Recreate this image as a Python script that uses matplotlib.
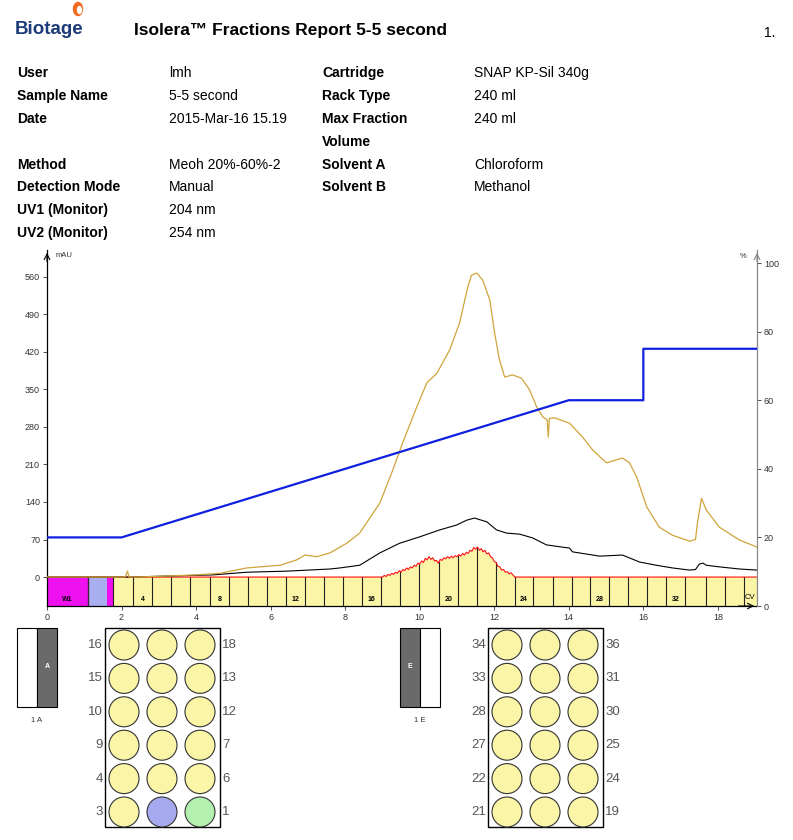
import matplotlib
matplotlib.use('Agg')
import matplotlib.pyplot as plt
from matplotlib.patches import Rectangle, Circle, Ellipse
import numpy as np

plt.rcParams['font.family'] = ['Liberation Sans', 'DejaVu Sans']

# ---- report header data
left_labels = ['User', 'Sample Name', 'Date', '', 'Method', 'Detection Mode', 'UV1 (Monitor)', 'UV2 (Monitor)']
left_values = ['lmh', '5-5 second', '2015-Mar-16 15.19', '', 'Meoh 20%-60%-2', 'Manual', '204 nm', '254 nm']
right_labels = ['Cartridge', 'Rack Type', 'Max Fraction', 'Volume', 'Solvent A', 'Solvent B', '', '']
right_values = ['SNAP KP-Sil 340g', '240 ml', '240 ml', '', 'Chloroform', 'Methanol', '', '']

# ---- traces (CV, mAU)
uv1_t = [0.0, 2.10, 2.16, 2.20, 2.6, 3.24, 4.0, 4.64, 5.36, 6.25, 6.70, 6.92, 7.24, 7.59, 8.04, 8.39,
         8.93, 9.28, 9.54, 9.92, 10.19, 10.46, 10.80, 11.07, 11.29, 11.39, 11.53, 11.69, 11.88, 12.01,
         12.14, 12.28, 12.49, 12.73, 12.95, 13.14, 13.30, 13.42, 13.45, 13.48, 13.62, 14.02, 14.37,
         14.64, 15.01, 15.44, 15.63, 15.82, 16.09, 16.43, 16.78, 17.24, 17.40, 17.45, 17.56, 17.69,
         18.04, 18.58, 19.05]
uv1_y = [0, 0, 11, 0, 0.5, 2, 4, 7, 17, 22, 32, 41, 38, 45, 63, 82,
         138, 200, 250, 317, 362, 380, 423, 474, 541, 563, 567, 554, 517, 455,
         405, 373, 377, 371, 349, 317, 299, 293, 261, 296, 297, 287, 261,
         237, 213, 222, 213, 187, 131, 93, 78, 67, 70, 100, 147, 125,
         93, 69, 56]

uv2_t = [0.0, 2.2, 3.30, 4.45, 5.36, 6.43, 7.59, 7.86, 8.39, 8.93, 9.46, 10.0, 10.54, 10.99, 11.26,
         11.47, 11.80, 12.06, 12.33, 12.68, 13.03, 13.40, 14.02, 14.10, 14.83, 15.44, 15.90, 16.35,
         16.78, 17.24, 17.40, 17.50, 17.60, 17.69, 18.04, 18.58, 19.05]
uv2_y = [0, 0, 2, 4, 9, 11, 15, 17, 22, 45, 63, 75, 88, 97, 106,
         110, 103, 88, 82, 80, 73, 60, 54, 47, 39, 41, 28, 22,
         17, 13, 14, 24, 26, 22, 19, 15, 13]

thr_t = [0.0, 9.00, 9.05, 9.10, 9.15, 9.20, 9.25, 9.30, 9.35, 9.40, 9.45, 9.50, 9.55, 9.60, 9.65,
         9.70, 9.75, 9.80, 9.85, 9.90, 9.95, 10.00, 10.05, 10.10, 10.15, 10.20, 10.25, 10.30, 10.35,
         10.40, 10.45, 10.50, 10.55, 10.60, 10.65, 10.70, 10.75, 10.80, 10.85, 10.90, 10.95, 11.00,
         11.05, 11.10, 11.15, 11.20, 11.25, 11.30, 11.35, 11.40, 11.45, 11.50, 11.55, 11.60, 11.65,
         11.70, 11.75, 11.80, 11.85, 11.90, 11.95, 12.00, 12.05, 12.10, 12.15, 12.20, 12.25, 12.30,
         12.35, 12.40, 12.45, 12.50, 12.55, 19.05]
thr_y = [0, 0, 3, 1, 5, 3, 7, 5, 9, 7, 12, 9, 14, 12, 17,
         14, 19, 17, 22, 20, 26, 24, 30, 27, 35, 32, 38, 33, 36,
         30, 31, 26, 33, 31, 36, 34, 38, 35, 39, 36, 40, 38,
         42, 39, 44, 41, 46, 44, 50, 48, 55, 52, 56, 50, 53,
         47, 50, 43, 45, 38, 36, 29, 27, 20, 19, 13, 14, 9,
         10, 6, 8, 4, 0, 0]

# gradient %B
grad_t = [0, 2, 14, 16, 16, 19.05]
grad_y = [20, 20, 60, 60, 75, 75]

# fraction bar
waste_segs = [(0.0, 1.12, '#ee10ee'), (1.12, 1.61, '#a8aef0'), (1.61, 1.78, '#ee10ee')]
frac_edges = [1.78, 2.30, 2.82, 3.34, 3.85, 4.37, 4.88, 5.39, 5.90, 6.41, 6.92, 7.43, 7.94, 8.45,
              8.95, 9.46, 9.97, 10.51, 11.02, 11.53, 12.04, 12.55, 13.03, 13.57, 14.08, 14.58,
              15.07, 15.60, 16.11, 16.62, 17.13, 17.67, 18.18, 18.69, 19.05]
first_frac = 3
frac_labels = [4, 8, 12, 16, 20, 24, 28, 32]

# racks (top row first)
rackA_left = [16, 15, 10, 9, 4, 3]
rackA_right = [18, 13, 12, 7, 6, 1]
rackE_left = [34, 33, 28, 27, 22, 21]
rackE_right = [36, 31, 30, 25, 24, 19]
tube_colors = {1: '#b4f0b0', 2: '#a8aaf0'}
yellow = '#fbf5a8'

fig = plt.figure(figsize=(7.93, 8.4), dpi=100)

# pixel overlay for the report parts
ov = fig.add_axes([0, 0, 1, 1])
ov.set_xlim(0, 793)
ov.set_ylim(840, 0)
ov.axis('off')

ov.text(15, 34, 'Biotage', fontsize=13.5, fontweight='bold', color='#1d3b78', va='baseline')
ov.add_patch(Ellipse((78, 9), 9, 13, color='#f26a1f'))
ov.add_patch(Ellipse((79.5, 10), 4, 7, color='white'))
ov.text(134, 31, 'Isolera\u2122 Fractions Report 5-5 second', fontsize=12.5, fontweight='bold', va='center')
ov.text(764, 33, '1.', fontsize=10, va='center')

row_y = [73, 96, 119, 142, 165, 187, 210, 233]
for i, y in enumerate(row_y):
    ov.text(17, y, left_labels[i], fontsize=10, fontweight='bold', va='center')
    ov.text(169, y, left_values[i], fontsize=10, va='center')
    ov.text(322, y, right_labels[i], fontsize=10, fontweight='bold', va='center')
    ov.text(474, y, right_values[i], fontsize=10, va='center')


def rack_icon(x0, letter, dark_left, label):
    ov.add_patch(Rectangle((x0, 628), 20, 79, facecolor='#6a6a6a' if dark_left else 'white',
                           edgecolor='black', lw=0.8))
    ov.add_patch(Rectangle((x0 + 20, 628), 20, 79, facecolor='white' if dark_left else '#6a6a6a',
                           edgecolor='black', lw=0.8))
    lx = x0 + 10 if dark_left else x0 + 30
    ov.text(lx, 667, letter, fontsize=5, color='white', fontweight='bold', ha='center', va='center')
    ov.text(x0 + 20, 720, label, fontsize=5.5, color='#333333', ha='center', va='center')


def rack(x0, lefts, rights):
    ov.add_patch(Rectangle((x0, 628), 115, 199, facecolor='white', edgecolor='black', lw=1))
    cx = [x0 + 19, x0 + 57, x0 + 95]
    for r in range(6):
        y = 645 + r * 33.4
        a, b = lefts[r], rights[r]
        step = 1 if b > a else -1
        nums = [a, a + step, b]
        for c in range(3):
            col = tube_colors.get(nums[c], yellow)
            ov.add_patch(Circle((cx[c], y), 15, facecolor=col, edgecolor='#333333', lw=0.8))
        ov.text(x0 - 2, y, str(a), fontsize=9.5, color='#555555', ha='right', va='center')
        ov.text(x0 + 117, y, str(b), fontsize=9.5, color='#555555', ha='left', va='center')


rack_icon(17, 'A', False, '1 A')
rack(105, rackA_left, rackA_right)
rack_icon(400, 'E', True, '1 E')
rack(488, rackE_left, rackE_right)

# ---- chromatogram
ax = fig.add_axes([47 / 793, 1 - 606 / 840, 710 / 793, 356 / 840])
ax.set_facecolor('none')
bar_bot = -54
ax.set_xlim(0, 19.05)
ax.set_ylim(bar_bot, 610)

for a, b, c in waste_segs:
    ax.add_patch(Rectangle((a, bar_bot), b - a, -bar_bot, facecolor=c, edgecolor='none', zorder=1))
ax.plot([1.10, 1.10], [bar_bot, 0], color='#402040', lw=1, zorder=2)
ax.text(0.55, -42, 'W1', fontsize=5, fontweight='bold', ha='center', va='center', zorder=3)
ax.add_patch(Rectangle((frac_edges[0], bar_bot), frac_edges[-1] - frac_edges[0], -bar_bot,
                       facecolor=yellow, edgecolor='none', zorder=1))
ax.fill_between(thr_t, 0, thr_y, color=yellow, lw=0, zorder=1)
for i, e in enumerate(frac_edges[:-1]):
    top = max(0, np.interp(e, thr_t, thr_y))
    ax.plot([e, e], [bar_bot, top], color='#222222', lw=0.8, zorder=2)
    n = first_frac + i
    if n in frac_labels:
        mid = (e + frac_edges[i + 1]) / 2
        ax.text(mid, -42, str(n), fontsize=5, fontweight='bold', ha='center', va='center', zorder=3)
ax.text(18.85, -38, 'CV', fontsize=5.5, ha='center', va='center', zorder=3)

ax.plot(thr_t, thr_y, color='#ff1010', lw=0.8, zorder=4)
ax.plot(uv2_t, uv2_y, color='black', lw=0.8, zorder=4)
ax.plot(uv1_t, uv1_y, color='#cfa43a', lw=0.9, zorder=5)

ax.set_yticks([0, 70, 140, 210, 280, 350, 420, 490, 560])
ax.set_xticks([0, 2, 4, 6, 8, 10, 12, 14, 16, 18])
ax.tick_params(labelsize=6.5, colors='#333333', length=3, width=0.6, pad=2)
ax.spines['top'].set_visible(False)
ax.spines['right'].set_visible(False)
ax.spines['left'].set_linewidth(0.9)
ax.spines['bottom'].set_linewidth(0.9)
ax.annotate('', xy=(0, 1.0), xytext=(0, 0.96), xycoords='axes fraction',
            arrowprops=dict(arrowstyle='->', lw=0.8, color='black'))
ax.annotate('', xy=(1.0, 0), xytext=(0.97, 0), xycoords='axes fraction',
            arrowprops=dict(arrowstyle='->', lw=0.8, color='black'))
ax.text(0.012, 0.985, 'mAU', fontsize=5.5, color='#333333', transform=ax.transAxes, va='center')

ax2 = ax.twinx()
ax2.set_ylim(0, 103.8)
ax2.plot(grad_t, grad_y, color='#1020e0', lw=1.6, zorder=6)
ax2.set_yticks([0, 20, 40, 60, 80, 100])
ax2.tick_params(labelsize=6.5, colors='#333333', length=3, width=0.6, pad=2)
for s in ['top', 'left', 'bottom']:
    ax2.spines[s].set_visible(False)
ax2.spines['right'].set_color('#888888')
ax2.spines['right'].set_linewidth(0.9)
ax2.annotate('', xy=(1.0, 1.0), xytext=(1.0, 0.96), xycoords='axes fraction',
             arrowprops=dict(arrowstyle='->', lw=0.8, color='#888888'))
ax2.text(0.985, 0.983, '%', fontsize=5.5, color='#333333', transform=ax2.transAxes, ha='right', va='center')

fig.savefig('out.png', dpi=100)
